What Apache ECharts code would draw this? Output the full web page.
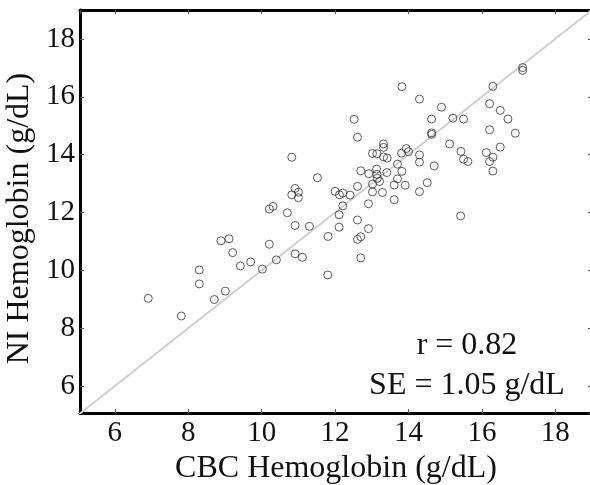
<!DOCTYPE html>
<html>
<head>
<meta charset="utf-8">
<script src="https://cdn.jsdelivr.net/npm/echarts@6/dist/echarts.min.js"></script>
<style>html,body{margin:0;padding:0;background:#fff;}#c{width:590px;height:485px;}</style>
</head>
<body>
<div id="c"></div>
<script>
// CBC hemoglobin (x) vs NI hemoglobin (y), g/dL
var cbcHb = [6.91,7.81,8.30,8.30,8.71,9.01,8.89,9.11,9.21,9.42,9.70,10.02,10.40,10.21,10.31,10.21,10.70,10.82,10.91,11.00,10.82,11.00,10.91,11.30,10.91,11.11,11.52,11.81,11.80,12.00,12.12,12.21,12.41,12.21,12.11,12.11,12.52,12.61,12.61,12.61,12.61,12.70,12.70,12.70,12.92,12.91,12.91,13.02,13.14,13.13,13.14,13.15,13.02,13.21,13.02,13.29,13.32,13.32,13.32,13.42,13.41,13.61,13.61,13.70,13.70,13.81,13.94,14.00,13.82,13.91,13.82,14.30,14.30,14.30,14.51,14.30,14.63,14.63,14.63,14.70,14.90,15.12,15.21,15.50,15.43,15.50,15.62,15.42,16.12,16.21,16.21,16.21,16.30,16.30,16.30,16.50,16.50,16.71,16.91,17.11,17.11];
var niHb = [9.03,8.42,10.01,9.53,8.99,9.28,11.02,11.09,10.61,10.15,10.29,10.04,10.36,12.12,12.21,10.90,11.99,13.91,12.83,12.70,12.61,12.51,11.55,11.52,10.57,10.45,13.20,11.17,9.84,12.73,12.61,12.67,12.60,12.23,11.92,11.49,15.22,14.60,12.90,11.74,11.07,11.16,10.43,13.44,13.34,12.30,11.44,14.04,14.03,13.50,13.32,13.18,12.98,13.07,12.71,12.69,14.37,14.25,13.92,13.88,13.38,12.95,12.44,13.67,13.16,14.05,14.21,14.10,13.42,12.94,16.35,15.92,13.99,13.74,13.03,12.72,15.23,14.75,14.70,13.61,15.64,14.37,15.26,15.23,14.11,13.84,13.76,11.88,14.07,15.76,14.86,13.76,16.36,13.91,13.43,15.53,14.26,15.23,14.74,17.01,16.91];
var identityLine = [[5, 5], [19, 19]];
var tickLabels = [6, 8, 10, 12, 14, 16, 18];
var xTitle = 'CBC Hemoglobin (g/dL)';
var yTitle = 'NI Hemoglobin (g/dL)';
var statLines = ['r = 0.82', 'SE = 1.05 g/dL'];

var points = cbcHb.map(function (x, i) { return [x, niHb[i]]; });
var FONT = "'Liberation Serif','DejaVu Serif','Times New Roman',serif";

function fmt(v) {
  var r = Math.round(v);
  if (Math.abs(v - r) < 1e-6 && tickLabels.indexOf(r) >= 0) return String(r);
  return '';
}

var baseAxis = {
  type: 'value',
  minInterval: 2, maxInterval: 2, splitNumber: 7,
  splitLine: { show: false },
  axisLine: { show: true, onZero: false, lineStyle: { color: '#000', width: 3 } },
  axisTick: { show: true, inside: true, length: 4, lineStyle: { color: '#555', width: 1 } }
};

function ax(extra) { return Object.assign({}, JSON.parse(JSON.stringify(baseAxis)), extra); }

var chart = echarts.init(document.getElementById('c'), null, { renderer: 'canvas' });
chart.setOption({
  animation: false,
  backgroundColor: '#fff',
  grid: { left: 80, top: 10, width: 512, height: 403, containLabel: false, outerBoundsMode: 'none' },
  xAxis: [
    ax({ position: 'bottom', min: 5.05, max: 19,
      name: xTitle, nameLocation: 'middle', nameGap: 38,
      nameTextStyle: { fontFamily: FONT, fontSize: 32, color: '#111' },
      axisLabel: { formatter: fmt, showMinLabel: false, showMaxLabel: false, margin: 6, fontFamily: FONT, fontSize: 29, color: '#111' } }),
    ax({ position: 'top', min: 5.05, max: 19, axisLabel: { show: false } })
  ],
  yAxis: [
    ax({ position: 'left', min: 5.066, max: 19,
      name: yTitle, nameLocation: 'middle', nameGap: 42,
      nameTextStyle: { fontFamily: FONT, fontSize: 32, color: '#111', padding: [0, 14, 0, 0] },
      axisLabel: { formatter: fmt, showMinLabel: false, showMaxLabel: false, margin: 5, fontFamily: FONT, fontSize: 29, color: '#111' } }),
    ax({ position: 'right', min: 5.066, max: 19, axisLabel: { show: false } })
  ],
  series: [
    {
      type: 'line', data: identityLine, xAxisIndex: 0, yAxisIndex: 0,
      symbol: 'none', silent: true, clip: true,
      lineStyle: { color: '#cfcfcf', width: 2 }, z: 1
    },
    {
      type: 'scatter', data: points, xAxisIndex: 0, yAxisIndex: 0,
      symbol: 'circle', symbolSize: 8,
      itemStyle: { color: 'rgba(0,0,0,0)', borderColor: '#333', borderWidth: 1 }, z: 2
    }
  ],
  graphic: [
    { type: 'text', x: 467, y: 346, style: { text: statLines[0], font: "32px " + FONT, fill: '#111', align: 'center', verticalAlign: 'middle' } },
    { type: 'text', x: 467, y: 386, style: { text: statLines[1], font: "32px " + FONT, fill: '#111', align: 'center', verticalAlign: 'middle' } }
  ]
});
</script>
</body>
</html>
